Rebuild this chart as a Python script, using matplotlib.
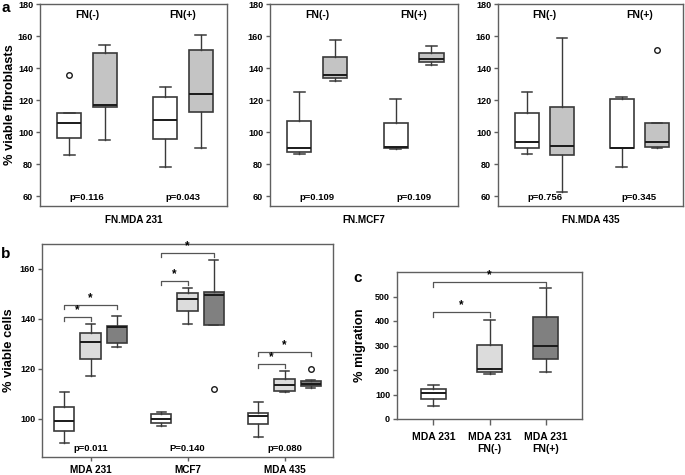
import matplotlib
matplotlib.use("Agg")
import matplotlib.pyplot as plt

plt.rcParams['font.family'] = ['Liberation Sans', 'DejaVu Sans']
plt.rcParams['font.weight'] = 'bold'

# ---------------- data ----------------
# panel a: per cell line, four boxes: FN(-) white, FN(-) gray, FN(+) white, FN(+) gray
# each box: [whislo, q1, med, q3, whishi]
a_titles = ["FN.MDA 231", "FN.MCF7", "FN.MDA 435"]
a_groups = ["FN(-)", "FN(+)"]
a_mda231 = [[85.6, 96.4, 105.9, 112.3, 112.3],
            [94.9, 116.0, 117.2, 149.3, 154.4],
            [78.2, 95.5, 107.7, 121.8, 128.4],
            [90.0, 112.9, 123.8, 151.1, 160.6]]
a_mda231_fliers = [[135.6], [], [], []]
a_mcf7 = [[86.7, 87.9, 90.0, 107.3, 124.9],
          [131.9, 133.8, 136.0, 146.8, 157.7],
          [89.5, 90.2, 90.6, 105.7, 120.7],
          [142.0, 143.7, 145.5, 149.3, 153.6]]
a_mcf7_fliers = [[], [], [], []]
a_mda435 = [[86.4, 90.0, 94.1, 112.3, 124.9],
            [62.5, 85.6, 91.6, 116.0, 159.0],
            [78.4, 90.0, 90.4, 121.0, 122.2],
            [90.0, 90.6, 93.7, 105.9, 105.9]]
a_mda435_fliers = [[], [], [], [151.1]]
a_pvalues = [["p=0.116", "p=0.043"], ["p=0.109", "p=0.109"], ["p=0.756", "p=0.345"]]

# panel b: per cell line, three boxes (control, FN(-), FN(+))
b_categories = ["MDA 231", "MCF7", "MDA 435"]
b_mda231 = [[90.3, 95.3, 99.3, 104.7, 110.9],
            [117.1, 124.1, 130.9, 134.5, 137.9],
            [128.9, 130.4, 136.8, 137.1, 141.3]]
b_mcf7 = [[97.3, 98.3, 100.0, 102.0, 102.8],
          [138.0, 143.1, 148.1, 150.4, 152.4],
          [137.7, 137.7, 149.5, 150.7, 163.6]]
b_mda435 = [[92.7, 98.0, 101.1, 102.3, 106.7],
            [110.7, 111.1, 113.6, 116.0, 119.2],
            [112.5, 113.1, 114.0, 115.2, 115.7]]
b_fliers = [[[], [], []], [[], [], [112.1]], [[], [], [120.0]]]
b_pvalues = ["p=0.011", "P=0.140", "p=0.080"]
# significance brackets per group: (short bracket height, long bracket height)
b_brackets = [[140.8, 145.5], [155.1, 166.4], [122.1, 126.8]]

# panel c
c_categories = ["MDA 231", "MDA 231\nFN(-)", "MDA 231\nFN(+)"]
c_stats = [[53, 80, 108, 124, 140],
           [183, 192, 204, 304, 406],
           [190, 245, 299, 416, 536]]
c_brackets = [437, 560]

# ---------------- styling ----------------
W, H = 685, 475
EDGE = '#3a3a3a'
SPINE = '#606060'
A_GRAY = '#c4c4c4'
B_LIGHT = '#dcdcdc'
B_DARK = '#808080'


def rect(l, t, r, b):
    return [l / W, 1 - b / H, (r - l) / W, (b - t) / H]


def stats_of(vals, fliers):
    lo, q1, med, q3, hi = vals
    return dict(whislo=lo, q1=q1, med=med, q3=q3, whishi=hi, fliers=fliers)


def draw_boxes(ax, stats_list, fliers_list, positions, colors, width):
    st = [stats_of(v, f) for v, f in zip(stats_list, fliers_list)]
    bp = ax.bxp(st, positions=positions, widths=width, patch_artist=True,
                showfliers=True, manage_ticks=False,
                boxprops=dict(edgecolor=EDGE, linewidth=1.2),
                medianprops=dict(color='#1a1a1a', linewidth=1.4),
                whiskerprops=dict(color=EDGE, linewidth=1.0),
                capprops=dict(color=EDGE, linewidth=1.1),
                capwidths=width * 0.45,
                flierprops=dict(marker='o', markersize=4, markerfacecolor='white',
                                markeredgecolor='#1a1a1a', markeredgewidth=1.0))
    for patch, c in zip(bp['boxes'], colors):
        patch.set_facecolor(c)
    return bp


def style_spines(ax):
    for s in ax.spines.values():
        s.set_color(SPINE)
        s.set_linewidth(1.0)


fig = plt.figure(figsize=(6.85, 4.75), dpi=100)

# ---------------- panel a ----------------
a_bounds = [(40, 227), (270, 458), (498, 683)]
a_data = [a_mda231, a_mcf7, a_mda435]
a_fl = [a_mda231_fliers, a_mcf7_fliers, a_mda435_fliers]
for i in range(3):
    l, r = a_bounds[i]
    ax = fig.add_axes(rect(l, 4, r, 206))
    pos = [1 - 0.185, 1 + 0.185, 2 - 0.185, 2 + 0.185]
    draw_boxes(ax, a_data[i], a_fl[i], pos, ['white', A_GRAY, 'white', A_GRAY], 0.25)
    ax.set_xlim(0.51, 2.46)
    ax.set_ylim(54, 180)
    ax.set_yticks([60, 80, 100, 120, 140, 160, 180])
    ax.set_xticks([])
    ax.tick_params(axis='y', labelsize=6.5, length=3, width=1, color=SPINE, pad=2)
    for lab in ax.get_yticklabels():
        lab.set_fontweight('bold')
    style_spines(ax)
    for g in range(2):
        ax.text(g + 1, 173, a_groups[g], ha='center', va='center', fontsize=7.5,
                fontweight='bold')
        ax.text(g + 1, 59, a_pvalues[i][g], ha='center', va='center', fontsize=6.8,
                fontweight='bold')
    ax.set_xlabel(a_titles[i], fontsize=7.2, fontweight='bold')
    ax.xaxis.set_label_coords(0.5, -0.045)
    if i == 0:
        ax.set_ylabel('% viable fibroblasts', fontsize=9.3, fontweight='bold')
        ax.yaxis.set_label_coords((16 - l) / (r - l), 0.5)

fig.text(1 / W, 1 - 8 / H, 'a', fontsize=11, fontweight='bold', va='center')

# ---------------- panel b ----------------
axb = fig.add_axes(rect(42, 244, 333, 457))
b_data = [b_mda231, b_mcf7, b_mda435]
off = 0.27
for g in range(3):
    pos = [g + 1 - off, g + 1, g + 1 + off]
    draw_boxes(axb, b_data[g], b_fliers[g], pos, ['white', B_LIGHT, B_DARK], 0.21)
    lo_h, hi_h = b_brackets[g]
    x0 = g + 1 - off
    for x1, h in [(g + 1, lo_h), (g + 1 + off, hi_h)]:
        axb.plot([x0, x0, x1, x1], [h - 1.6, h, h, h - 1.6], color='#555555', lw=0.9)
        axb.text((x0 + x1) / 2, h + 0.3, '*', ha='center', va='bottom', fontsize=8.5,
                 fontweight='bold')
    axb.text(g + 1, 88, b_pvalues[g], ha='center', va='center', fontsize=6.8,
             fontweight='bold')
axb.set_xlim(0.5, 3.5)
axb.set_ylim(84.8, 170)
axb.set_yticks([100, 120, 140, 160])
axb.set_xticks([1, 2, 3])
axb.set_xticklabels(b_categories, fontsize=7.2, fontweight='bold')
axb.tick_params(axis='y', labelsize=6.5, length=3, width=1, color=SPINE, pad=2)
axb.tick_params(axis='x', length=3, width=1, color=SPINE, pad=3)
for lab in axb.get_yticklabels():
    lab.set_fontweight('bold')
style_spines(axb)
axb.set_ylabel('% viable cells', fontsize=9.3, fontweight='bold')
axb.yaxis.set_label_coords((15 - 42) / (333 - 42), 0.5)
fig.text(1 / W, 1 - 254 / H, 'b', fontsize=11, fontweight='bold', va='center')

# ---------------- panel c ----------------
axc = fig.add_axes(rect(397, 272, 582, 419))
draw_boxes(axc, c_stats, [[], [], []], [1, 2, 3], ['white', B_LIGHT, B_DARK], 0.46)
for x1, h in [(2, c_brackets[0]), (3, c_brackets[1])]:
    axc.plot([1, 1, x1, x1], [h - 22, h, h, h - 22], color='#555555', lw=0.9)
    axc.text((1 + x1) / 2, h + 3, '*', ha='center', va='bottom', fontsize=8.5,
             fontweight='bold')
axc.set_xlim(0.35, 3.65)
axc.set_ylim(0, 600)
axc.set_yticks([0, 100, 200, 300, 400, 500])
axc.set_xticks([1, 2, 3])
axc.set_xticklabels(c_categories, fontsize=7.5, fontweight='bold', linespacing=1.35)
axc.tick_params(axis='y', labelsize=6.5, length=3, width=1, color=SPINE, pad=2)
axc.tick_params(axis='x', length=4, width=1, color=SPINE, pad=5)
for lab in axc.get_yticklabels():
    lab.set_fontweight('bold')
style_spines(axc)
axc.set_ylabel('% migration', fontsize=9.3, fontweight='bold')
axc.yaxis.set_label_coords((366 - 397) / (582 - 397), 0.5)
fig.text(353 / W, 1 - 278 / H, 'c', fontsize=11, fontweight='bold', va='center')

fig.savefig('out.png', dpi=100)
